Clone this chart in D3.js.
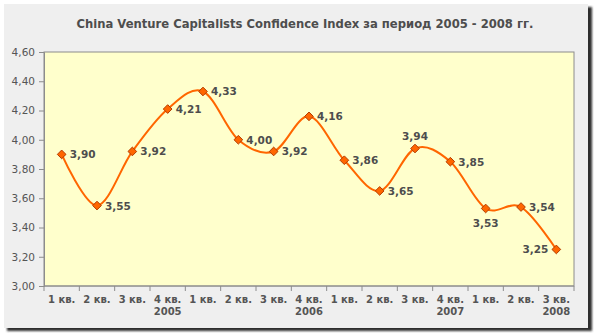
<!DOCTYPE html>
<html>
<head>
<meta charset="utf-8">
<script src="https://cdn.jsdelivr.net/npm/d3@7"></script>
<style>
  body { margin: 0; background: #fff; }
  svg { display: block; font-family: Verdana, "DejaVu Sans", sans-serif; }
</style>
</head>
<body>
<svg id="chart" width="598" height="334"></svg>
<script>
  const width = 598, height = 334;
  const svg = d3.select("#chart");

  // data
  const quarters = ["1 кв.", "2 кв.", "3 кв.", "4 кв.", "1 кв.", "2 кв.", "3 кв.", "4 кв.",
                    "1 кв.", "2 кв.", "3 кв.", "4 кв.", "1 кв.", "2 кв.", "3 кв."];
  const years = ["2005", "2005", "2005", "2005", "2006", "2006", "2006", "2006",
                 "2007", "2007", "2007", "2007", "2008", "2008", "2008"];
  const values = [3.90, 3.55, 3.92, 4.21, 4.33, 4.00, 3.92, 4.16, 3.86, 3.65, 3.94, 3.85, 3.53, 3.54, 3.25];
  const labelPos = ["r", "r", "r", "r", "r", "r", "r", "r", "r", "r", "t", "r", "b", "r", "l"];
  const yTicks = [3.0, 3.2, 3.4, 3.6, 3.8, 4.0, 4.2, 4.4, 4.6];

  const fmt = v => v.toFixed(2).replace(".", ",");
  const idx = d3.range(values.length);

  // panel with shadow
  const defs = svg.append("defs");
  defs.append("filter").attr("id", "shadow")
    .append("feGaussianBlur").attr("stdDeviation", 1.2);
  svg.append("rect")
    .attr("x", 7).attr("y", 7).attr("width", 585).attr("height", 324)
    .attr("fill", "#2e2e2e").attr("filter", "url(#shadow)");
  svg.append("rect")
    .attr("x", 4).attr("y", 4).attr("width", 584).attr("height", 324)
    .attr("fill", "#efefef");

  const margin = { left: 44, right: 24, top: 52, bottom: 48 };
  const x = d3.scaleBand().domain(idx).range([margin.left, width - margin.right]);
  const y = d3.scaleLinear().domain([3.0, 4.6]).range([height - margin.bottom, margin.top]);

  // plot area
  svg.append("rect")
    .attr("x", margin.left).attr("y", margin.top)
    .attr("width", width - margin.left - margin.right)
    .attr("height", height - margin.top - margin.bottom)
    .attr("fill", "#ffffcc").attr("stroke", "#8c8c8c").attr("stroke-width", 1);

  // title
  svg.append("text")
    .attr("x", 305).attr("y", 28)
    .attr("text-anchor", "middle")
    .attr("font-size", 11.6).attr("font-weight", "bold").attr("fill", "#4d4d4d")
    .text("China Venture Capitalists Confidence Index за период 2005 - 2008 гг.");

  // y axis
  const yAxis = svg.append("g")
    .attr("transform", `translate(${margin.left},0)`)
    .call(d3.axisLeft(y).tickValues(yTicks).tickFormat(fmt).tickSize(5).tickPadding(4));
  yAxis.select(".domain").attr("stroke", "#8c8c8c");
  yAxis.selectAll(".tick line").attr("stroke", "#8c8c8c");
  yAxis.selectAll(".tick text").attr("fill", "#555").attr("font-size", 10.5)
    .attr("font-family", "Verdana, 'DejaVu Sans', sans-serif");

  // x axis: ticks at category boundaries
  const xg = svg.append("g").attr("transform", `translate(0,${height - margin.bottom})`);
  xg.append("line")
    .attr("x1", margin.left).attr("x2", width - margin.right)
    .attr("stroke", "#8c8c8c");
  xg.selectAll(".tk")
    .data(d3.range(values.length + 1))
    .join("line")
    .attr("class", "tk")
    .attr("x1", i => margin.left + i * x.step()).attr("x2", i => margin.left + i * x.step())
    .attr("y1", 0).attr("y2", 5)
    .attr("stroke", "#8c8c8c");
  xg.selectAll(".ql")
    .data(idx)
    .join("text")
    .attr("class", "ql")
    .attr("x", i => x(i) + x.bandwidth() / 2).attr("y", 17)
    .attr("text-anchor", "middle")
    .attr("font-size", 10).attr("font-weight", "bold").attr("fill", "#555")
    .text(i => quarters[i]);
  const yearEnds = idx.filter(i => i === values.length - 1 || years[i + 1] !== years[i]);
  xg.selectAll(".yl")
    .data(yearEnds)
    .join("text")
    .attr("class", "yl")
    .attr("x", i => x(i) + x.bandwidth() / 2).attr("y", 29)
    .attr("text-anchor", "middle")
    .attr("font-size", 10).attr("font-weight", "bold").attr("fill", "#555")
    .text(i => years[i]);

  // line
  const line = d3.line()
    .x(i => x(i) + x.bandwidth() / 2)
    .y(i => y(values[i]))
    .curve(d3.curveCardinal.tension(0));
  svg.append("path")
    .datum(idx)
    .attr("d", line)
    .attr("fill", "none").attr("stroke", "#ff6600").attr("stroke-width", 2);

  // markers
  svg.selectAll(".mk")
    .data(idx)
    .join("path")
    .attr("class", "mk")
    .attr("d", d3.symbol(d3.symbolDiamond2, 48))
    .attr("transform", i => `translate(${x(i) + x.bandwidth() / 2},${y(values[i])})`)
    .attr("fill", "#ff6600").attr("stroke", "#b33c00").attr("stroke-width", 1);

  // data labels
  svg.selectAll(".dl")
    .data(idx)
    .join("text")
    .attr("class", "dl")
    .attr("x", i => {
      const cx = x(i) + x.bandwidth() / 2;
      return labelPos[i] === "r" ? cx + 8 : labelPos[i] === "l" ? cx - 8 : cx;
    })
    .attr("y", i => {
      const cy = y(values[i]);
      return labelPos[i] === "t" ? cy - 9 : labelPos[i] === "b" ? cy + 19 : cy + 4;
    })
    .attr("text-anchor", i => labelPos[i] === "r" ? "start" : labelPos[i] === "l" ? "end" : "middle")
    .attr("font-size", 10.5).attr("font-weight", "bold").attr("fill", "#4d4d4d")
    .text(i => fmt(values[i]));
</script>
</body>
</html>
